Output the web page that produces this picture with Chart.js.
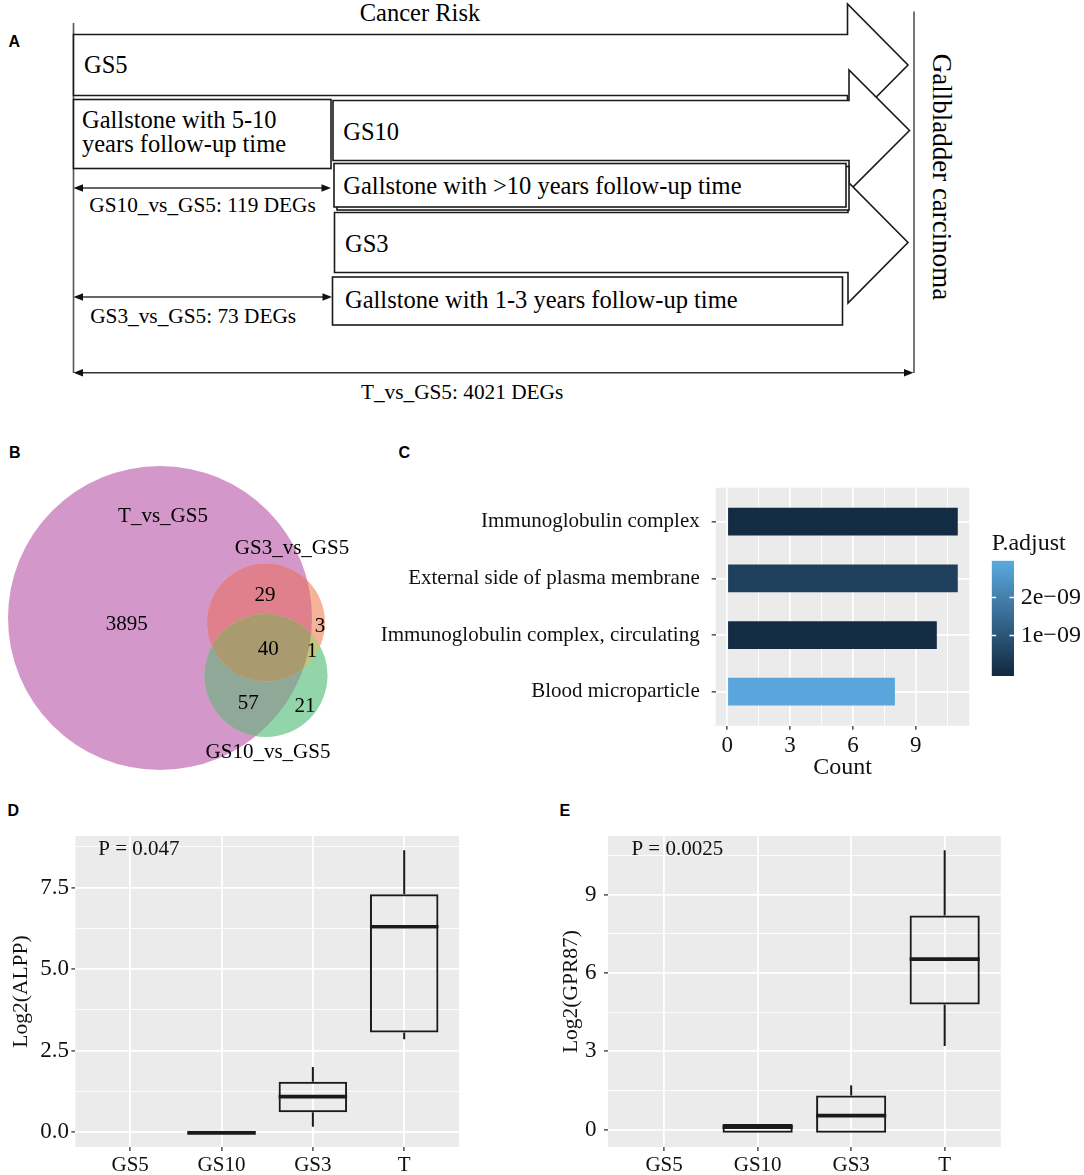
<!DOCTYPE html>
<html><head><meta charset="utf-8">
<script src="https://cdn.jsdelivr.net/npm/chart.js@4.4.1/dist/chart.umd.min.js"></script>
<style>
html,body{margin:0;padding:0;background:#fff;}
body{width:1084px;height:1175px;position:relative;overflow:hidden;font-family:"Liberation Serif",serif;}
.cv{position:absolute;}
.lbl{position:absolute;font-family:"Liberation Sans",Arial,sans-serif;font-weight:bold;font-size:16px;line-height:16px;color:#000;}
#diagram{position:absolute;left:0;top:0;}
#diagram text{font-family:"Liberation Serif",serif;fill:#000;}
</style></head><body>

<svg id="diagram" width="1084" height="420">
  <g stroke="#555" stroke-width="1.6">
    <line x1="73.5" y1="23" x2="73.5" y2="373"/>
    <line x1="914" y1="11.5" x2="914" y2="373"/>
  </g>
  <g fill="#fff" stroke="#1a1a1a" stroke-width="1.6" stroke-linejoin="miter">
    <polygon points="73.5,34.5 847.5,34.5 847.5,4 908,65 847.5,126 847.5,95.5 73.5,95.5"/>
    <polygon points="333,100.5 849,100.5 849,70 909.5,130.5 849,191 849,160.5 333,160.5"/>
    <rect x="73.5" y="99.5" width="257.5" height="69"/>
    <polygon points="334.5,212.5 848,212.5 848,182 908,242.5 848,303 848,272.5 334.5,272.5"/>
    <rect x="337" y="166.5" width="512" height="43.5"/>
    <rect x="334" y="163.5" width="512" height="43.5"/>
    <rect x="332.5" y="277" width="510" height="48"/>
  </g>
  <g stroke="#333" stroke-width="1.5">
    <line x1="80" y1="188" x2="324" y2="188"/>
    <line x1="80" y1="297" x2="325" y2="297"/>
    <line x1="80" y1="372.7" x2="906" y2="372.7"/>
  </g>
  <g fill="#111">
    <polygon points="73.5,188 83,184.3 83,191.7"/>
    <polygon points="331,188 321.5,184.3 321.5,191.7"/>
    <polygon points="73.5,297 83,293.3 83,300.7"/>
    <polygon points="332,297 322.5,293.3 322.5,300.7"/>
    <polygon points="73.5,372.7 83,369 83,376.4"/>
    <polygon points="913.5,372.7 904,369 904,376.4"/>
  </g>
  <text x="420" y="21" text-anchor="middle" font-size="24.5">Cancer Risk</text>
  <text x="84" y="73" font-size="24.5">GS5</text>
  <text x="82" y="127.5" font-size="24.5">Gallstone with 5-10</text>
  <text x="82" y="151.5" font-size="24.5">years follow-up time</text>
  <text x="343.3" y="140" font-size="24.5">GS10</text>
  <text x="343.3" y="194" font-size="24.5">Gallstone with &gt;10 years follow-up time</text>
  <text x="345" y="251.7" font-size="24.5">GS3</text>
  <text x="345" y="308.3" font-size="24.5">Gallstone with 1-3 years follow-up time</text>
  <text x="89.3" y="212" font-size="21.3">GS10_vs_GS5: 119 DEGs</text>
  <text x="90.2" y="323.3" font-size="21.3">GS3_vs_GS5: 73 DEGs</text>
  <text x="360.9" y="399" font-size="21.3">T_vs_GS5: 4021 DEGs</text>
  <text transform="translate(933,177) rotate(90)" text-anchor="middle" font-size="27">Gallbladder carcinoma</text>
</svg>

<div class="lbl" style="left:8.5px;top:34px">A</div>
<div class="lbl" style="left:9px;top:445px">B</div>
<div class="lbl" style="left:398.5px;top:445px">C</div>
<div class="lbl" style="left:7.5px;top:803px">D</div>
<div class="lbl" style="left:559.5px;top:803px">E</div>

<div class="cv" style="left:0;top:440px;width:370px;height:340px"><canvas id="venn"></canvas></div>
<div class="cv" style="left:370px;top:470px;width:620px;height:320px"><canvas id="go"></canvas></div>
<div class="cv" style="left:985px;top:525px;width:99px;height:160px"><canvas id="cbar"></canvas></div>
<div class="cv" style="left:0;top:790px;width:470px;height:385px"><canvas id="boxD"></canvas></div>
<div class="cv" style="left:540px;top:790px;width:470px;height:385px"><canvas id="boxE"></canvas></div>

<script>
// ================= DATA =================
// Panel B: Venn
const vennSetNames = ['T_vs_GS5', 'GS3_vs_GS5', 'GS10_vs_GS5'];
const vennRegionCounts = [3895, 29, 3, 40, 1, 57, 21]; // T only, T∩GS3, GS3 only, all, GS3∩GS10, T∩GS10, GS10 only

// Panel C: GO enrichment
const goTerms = ['Immunoglobulin complex', 'External side of plasma membrane', 'Immunoglobulin complex, circulating', 'Blood microparticle'];
const goCounts = [11, 11, 10, 8];
const goPadj = [1.2e-11, 4.9e-10, 1.0e-11, 2.89e-9];
const countTicks = [0, 3, 6, 9];
const padjTicks = [1e-9, 2e-9];
const padjTickLabels = ['1e\u221209', '2e\u221209'];

// Panels D/E: box plots
const groups = ['GS5', 'GS10', 'GS3', 'T'];
const alppMin = [null, -0.02, 0.17, 2.85];
const alppQ1  = [null, -0.02, 0.61, 3.06];
const alppMed = [null, -0.02, 1.09, 6.30];
const alppQ3  = [null, -0.02, 1.55, 7.30];
const alppMax = [null, -0.02, 2.00, 8.65];
const alppTicks = [0, 2.5, 5, 7.5];
const alppP = 'P = 0.047';

const gprMin = [null, -0.12, -0.12, 3.20];
const gprQ1  = [null, -0.12, -0.12, 4.79];
const gprMed = [null, 0.10, 0.54, 6.53];
const gprQ3  = [null, 0.22, 1.31, 8.20];
const gprMax = [null, 0.22, 1.70, 10.70];
const gprTicks = [0, 3, 6, 9];
const gprP = 'P = 0.0025';

// ================= LAYOUT / STYLE =================
const FONT = "'Liberation Serif', 'Times New Roman', serif";
const TXT = '#111';
const vennLayout = {
  cx: [160, 266, 266], cy: [178, 182.5, 235.5], r: [152, 59, 61.5],
  setLabelX: [163, 292, 268], setLabelY: [76, 108, 312],
  countX: [126.7, 265, 320, 268.3, 312, 248.3, 305],
  countY: [184.3, 155, 186, 209.3, 211.7, 263.3, 266.7]
};
const vennColors = {P: '#D497CA', O: '#F5B498', OP: '#E0808C', G: '#92D5AB', GP: '#8FA898', GO: '#C3C47E', GOP: '#AA9A70'};
const lowCol = [19, 43, 67], highCol = [90, 166, 220];

const pMin = Math.min(...goPadj), pMax = Math.max(...goPadj);
function padjColor(p) {
  const t = (p - pMin) / (pMax - pMin);
  const c = lowCol.map((l, k) => Math.round(l + (highCol[k] - l) * t));
  return `rgb(${c[0]},${c[1]},${c[2]})`;
}
function minorsOf(ticks, lo, hi) {
  const step = ticks[1] - ticks[0];
  const out = [];
  for (let v = ticks[0] - step / 2; v <= hi; v += step) if (v >= lo) out.push(+v.toFixed(6));
  return out;
}
function noPadV(s) { s.paddingTop = 0; s.paddingBottom = 0; }
function noPadH(s) { s.paddingLeft = 0; s.paddingRight = 0; }

const panelBg = {
  id: 'panelBg',
  beforeDraw(chart) {
    const a = chart.chartArea, c = chart.ctx;
    c.save(); c.fillStyle = '#EBEBEB';
    c.fillRect(a.left, a.top, a.right - a.left, a.bottom - a.top);
    c.restore();
  }
};

// ================= PANEL B: VENN =================
const vennPlugin = {
  id: 'vennPlugin',
  beforeDatasetsDraw(chart) {
    const {ctx} = chart, xs = chart.scales.x, ys = chart.scales.y;
    const circ = i => ({x: xs.getPixelForValue(vennLayout.cx[i]), y: ys.getPixelForValue(vennLayout.cy[i]),
      r: xs.getPixelForValue(vennLayout.cx[i] + vennLayout.r[i]) - xs.getPixelForValue(vennLayout.cx[i])});
    const P = circ(0), O = circ(1), G = circ(2);
    const path = c => { ctx.beginPath(); ctx.arc(c.x, c.y, c.r, 0, Math.PI * 2); };
    const fill = (c, col) => { path(c); ctx.fillStyle = col; ctx.fill(); };
    const clipTo = c => { path(c); ctx.clip(); };
    ctx.save();
    fill(P, vennColors.P);
    fill(O, vennColors.O);
    ctx.save(); clipTo(P); fill(O, vennColors.OP); ctx.restore();
    fill(G, vennColors.G);
    ctx.save(); clipTo(P); fill(G, vennColors.GP); ctx.restore();
    ctx.save(); clipTo(O); fill(G, vennColors.GO); ctx.restore();
    ctx.save(); clipTo(O); clipTo(P); fill(G, vennColors.GOP); ctx.restore();
    ctx.restore();
  },
  afterDatasetsDraw(chart) {
    const {ctx} = chart, xs = chart.scales.x, ys = chart.scales.y;
    ctx.save();
    ctx.fillStyle = '#000'; ctx.font = `21px ${FONT}`; ctx.textAlign = 'center'; ctx.textBaseline = 'middle';
    vennRegionCounts.forEach((n, i) => ctx.fillText(String(n), xs.getPixelForValue(vennLayout.countX[i]), ys.getPixelForValue(vennLayout.countY[i])));
    vennSetNames.forEach((s, i) => ctx.fillText(s, xs.getPixelForValue(vennLayout.setLabelX[i]), ys.getPixelForValue(vennLayout.setLabelY[i])));
    ctx.restore();
  }
};
new Chart(document.getElementById('venn'), {
  type: 'scatter',
  data: {datasets: [{data: vennRegionCounts.map((n, i) => ({x: vennLayout.countX[i], y: vennLayout.countY[i]})), pointRadius: 0}]},
  options: {
    animation: false, responsive: true, maintainAspectRatio: false,
    layout: {padding: 0},
    plugins: {legend: {display: false}, tooltip: {enabled: false}},
    scales: {x: {type: 'linear', min: 0, max: 370, display: false}, y: {type: 'linear', min: 0, max: 340, reverse: true, display: false}}
  },
  plugins: [vennPlugin]
});

// ================= PANEL C: GO BAR =================
const goMaxCount = Math.max(...goCounts);
const goXmin = -0.05 * goMaxCount, goXmax = goMaxCount * 1.05;
const goXminor = minorsOf(countTicks, goXmin, goXmax);
new Chart(document.getElementById('go'), {
  type: 'bar',
  data: {datasets: [{
    data: goTerms.map((t, i) => ({x: goCounts[i], y: i + 1})),
    backgroundColor: goPadj.map(padjColor),
    borderWidth: 0, barPercentage: 0.49, categoryPercentage: 1
  }]},
  options: {
    indexAxis: 'y', animation: false, responsive: true, maintainAspectRatio: false,
    layout: {padding: {top: 17.7, right: 20.7, left: 0, bottom: 0}},
    plugins: {legend: {display: false}, tooltip: {enabled: false}},
    scales: {
      x: {
        type: 'linear', min: goXmin, max: goXmax, offset: false,
        afterBuildTicks: s => { s.ticks = [...countTicks, ...goXminor].sort((a, b) => a - b).map(v => ({value: v})); },
        afterFit: s => { s.height = 64.3; noPadH(s); },
        border: {display: false},
        grid: {offset: false, color: '#fff', lineWidth: c => (c.tick && countTicks.includes(c.tick.value)) ? 1.7 : 0.9,
          tickColor: c => (c.tick && countTicks.includes(c.tick.value)) ? '#333' : 'rgba(0,0,0,0)', tickLength: 4, tickWidth: 1.3},
        ticks: {autoSkip: false, maxRotation: 0, padding: 2, color: TXT, font: {family: FONT, size: 23},
          callback: v => countTicks.includes(v) ? String(v) : ''},
        title: {display: true, text: 'Count', color: TXT, font: {family: FONT, size: 24}, padding: {top: 0, bottom: 7.6}}
      },
      y: {
        type: 'linear', reverse: true, min: 0.4, max: goTerms.length + 0.6, offset: false,
        afterBuildTicks: s => { s.ticks = goTerms.map((t, i) => ({value: i + 1})); },
        afterFit: s => { s.width = 345.7; noPadV(s); },
        border: {display: false},
        grid: {offset: false, color: '#fff', lineWidth: 1.7, tickColor: '#333', tickLength: 4, tickWidth: 1.3},
        ticks: {autoSkip: false, padding: 12, color: TXT, font: {family: FONT, size: 21}, callback: v => goTerms[v - 1]}
      }
    }
  },
  plugins: [panelBg]
});

// ================= COLOUR BAR =================
const nbin = 20;
const halfBin = (pMax - pMin) / (nbin - 1) / 2;
const cbMin = pMin - halfBin, cbMax = pMax + halfBin;
const cbTicks = {
  id: 'cbTicks',
  afterDatasetsDraw(chart) {
    const {ctx} = chart, a = chart.chartArea, ys = chart.scales.y;
    const w = (a.right - a.left) / 5;
    ctx.save(); ctx.strokeStyle = '#fff'; ctx.lineWidth = 1.4;
    padjTicks.forEach(v => {
      const y = Math.round(ys.getPixelForValue(v)) + 0.5;
      ctx.beginPath(); ctx.moveTo(a.left, y); ctx.lineTo(a.left + w, y);
      ctx.moveTo(a.right - w, y); ctx.lineTo(a.right, y); ctx.stroke();
    });
    ctx.restore();
  }
};
new Chart(document.getElementById('cbar'), {
  type: 'bar',
  data: {labels: ['P.adjust'], datasets: [{
    data: [[cbMin, cbMax]], borderWidth: 0, barPercentage: 1, categoryPercentage: 1,
    backgroundColor: c => {
      const ch = c.chart, ys = ch.scales.y;
      if (!ch.chartArea || !ys) return padjColor(pMin);
      const g = ch.ctx.createLinearGradient(0, ys.getPixelForValue(pMin), 0, ys.getPixelForValue(pMax));
      for (let k = 0; k <= 10; k++) g.addColorStop(k / 10, padjColor(pMin + (pMax - pMin) * k / 10));
      return g;
    }
  }]},
  options: {
    animation: false, responsive: true, maintainAspectRatio: false,
    layout: {padding: {left: 6.7, right: 0, top: 0, bottom: 9}},
    plugins: {legend: {display: false}, tooltip: {enabled: false},
      title: {display: true, text: 'P.adjust', align: 'start', color: TXT, font: {family: FONT, size: 24, weight: 'normal'}, padding: {top: 3.9, bottom: 3}}},
    scales: {
      x: {display: false},
      y: {position: 'right', min: cbMin, max: cbMax,
        afterBuildTicks: s => { s.ticks = padjTicks.map(v => ({value: v})); },
        afterFit: s => { s.width = 70; noPadV(s); },
        grid: {display: false, drawTicks: false}, border: {display: false},
        ticks: {autoSkip: false, padding: 6.7, color: TXT, font: {family: FONT, size: 24},
          callback: (v, i) => padjTickLabels[padjTicks.indexOf(v)]}}
    }
  },
  plugins: [cbTicks]
});

// ================= PANELS D / E: BOX PLOTS =================
const boxExtras = {
  id: 'boxExtras',
  afterDatasetsDraw(chart, args, o) {
    const {ctx} = chart, xs = chart.scales.x, ys = chart.scales.y;
    const meta = chart.getDatasetMeta(0);
    ctx.save(); ctx.strokeStyle = '#1a1a1a'; ctx.lineCap = 'butt';
    o.med.forEach((m, i) => {
      if (m == null) return;
      const x = xs.getPixelForValue(i + 1);
      const hw = meta.data[i].width / 2;
      ctx.lineWidth = 2;
      ctx.beginPath();
      ctx.moveTo(x, ys.getPixelForValue(o.q3[i])); ctx.lineTo(x, ys.getPixelForValue(o.max[i]));
      ctx.moveTo(x, ys.getPixelForValue(o.q1[i])); ctx.lineTo(x, ys.getPixelForValue(o.min[i]));
      ctx.stroke();
      ctx.lineWidth = 3.6;
      const ym = ys.getPixelForValue(m);
      ctx.beginPath(); ctx.moveTo(x - hw, ym); ctx.lineTo(x + hw, ym); ctx.stroke();
    });
    ctx.fillStyle = TXT; ctx.font = `21px ${FONT}`; ctx.textAlign = 'left'; ctx.textBaseline = 'middle';
    ctx.fillText(o.pText, xs.getPixelForValue(o.pX), ys.getPixelForValue(o.pY) - 1);
    ctx.restore();
  }
};

function boxChart(id, st, ticks, fmt, title, cfg) {
  const lo = Math.min(...st.min.filter(v => v != null)), hi = Math.max(...st.max.filter(v => v != null));
  const ymin = lo - 0.05 * (hi - lo), ymax = hi + 0.05 * (hi - lo);
  const minors = minorsOf(ticks, ymin, ymax);
  return new Chart(document.getElementById(id), {
    type: 'bar',
    data: {datasets: [{
      data: groups.map((g, i) => ({x: i + 1, y: st.q1[i] == null ? null : [st.q1[i], st.q3[i]]})),
      backgroundColor: 'rgba(0,0,0,0)', borderColor: '#1a1a1a', borderWidth: 2, borderSkipped: false,
      barPercentage: 0.75, categoryPercentage: 1
    }]},
    options: {
      animation: false, responsive: true, maintainAspectRatio: false,
      layout: {padding: {top: 46, right: cfg.padRight, left: 0, bottom: 0}},
      plugins: {legend: {display: false}, tooltip: {enabled: false},
        boxExtras: {min: st.min, q1: st.q1, med: st.med, q3: st.q3, max: st.max, pText: st.p, pX: 0.65, pY: hi}},
      scales: {
        x: {type: 'linear', min: 0.4, max: groups.length + 0.6, offset: false,
          afterBuildTicks: s => { s.ticks = groups.map((g, i) => ({value: i + 1})); },
          afterFit: s => { s.height = 28; noPadH(s); },
          border: {display: false},
          grid: {offset: false, color: '#fff', lineWidth: 1.8, tickColor: '#333', tickLength: 4, tickWidth: 1.3},
          ticks: {autoSkip: false, maxRotation: 0, padding: 2, color: TXT, font: {family: FONT, size: 21}, callback: v => groups[v - 1]}},
        y: {type: 'linear', min: ymin, max: ymax, beginAtZero: false,
          afterBuildTicks: s => { s.ticks = [...ticks, ...minors].sort((a, b) => a - b).map(v => ({value: v})); },
          afterFit: s => { s.width = cfg.axisW; noPadV(s); },
          border: {display: false},
          grid: {color: '#fff', lineWidth: c => (c.tick && ticks.includes(c.tick.value)) ? 1.8 : 0.9,
            tickColor: c => (c.tick && ticks.includes(c.tick.value)) ? '#333' : 'rgba(0,0,0,0)', tickLength: 4, tickWidth: 1.3},
          ticks: {autoSkip: false, padding: cfg.tickPad, color: TXT, font: {family: FONT, size: cfg.tickSize},
            callback: v => ticks.includes(v) ? fmt(v) : ''},
          title: {display: true, text: title, color: TXT, font: {family: FONT, size: 21.5}, padding: {top: cfg.titlePad, bottom: 0}}}
      }
    },
    plugins: [panelBg, boxExtras]
  });
}

boxChart('boxD', {min: alppMin, q1: alppQ1, med: alppMed, q3: alppQ3, max: alppMax, p: alppP}, alppTicks, v => v.toFixed(1), 'Log2(ALPP)',
  {padRight: 11, axisW: 75.4, tickPad: 2.5, tickSize: 23, titlePad: 8.6});
boxChart('boxE', {min: gprMin, q1: gprQ1, med: gprMed, q3: gprQ3, max: gprMax, p: gprP}, gprTicks, v => String(v), 'Log2(GPR87)',
  {padRight: 9.2, axisW: 68, tickPad: 7.4, tickSize: 23, titlePad: 18.4});
</script>
</body></html>
